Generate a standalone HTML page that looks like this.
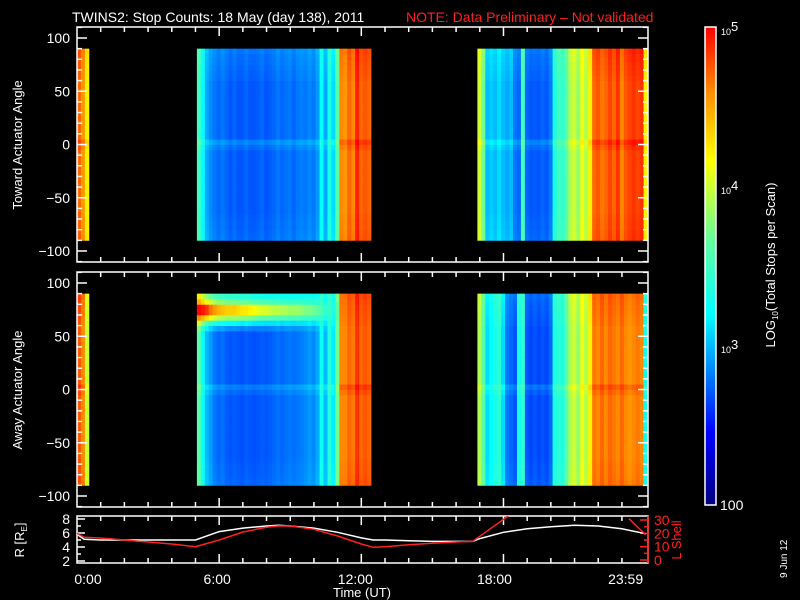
<!DOCTYPE html>
<html><head><meta charset="utf-8"><style>
html,body{margin:0;padding:0;background:#000;}
svg{display:block;font-family:"Liberation Sans",sans-serif;}
</style></head><body>
<svg id="chart" width="800" height="600" viewBox="0 0 800 600">
<rect x="0" y="0" width="800" height="600" fill="#000"/>
<defs>
<linearGradient id="cbg" x1="0" y1="1" x2="0" y2="0">
<stop offset="0" stop-color="#000080"/><stop offset="0.15" stop-color="#0000ff"/><stop offset="0.4" stop-color="#00ffff"/><stop offset="0.55" stop-color="#60ffa0"/><stop offset="0.72" stop-color="#ffff00"/><stop offset="0.86" stop-color="#ff9000"/><stop offset="1" stop-color="#ff0000"/>
</linearGradient>
<clipPath id="lineclip"><rect x="77" y="516" width="571" height="47"/></clipPath>
</defs>
<text x="72" y="22" font-size="14" fill="#fff">TWINS2: Stop Counts: 18 May (day 138), 2011</text>
<text x="406" y="22" font-size="14" fill="#ff2020">NOTE: Data Preliminary – Not validated</text>
<g id="spec"></g>
<g id="axes"></g>
<g id="lines" clip-path="url(#lineclip)"></g>
<rect x="705" y="27" width="11" height="478" fill="url(#cbg)" stroke="#fff" stroke-width="1.5"/>
<text transform="translate(775,265) rotate(-90)" text-anchor="middle" font-size="13" fill="#fff">LOG<tspan font-size="8" dy="3">10</tspan><tspan dy="-3">(Total Stops per Scan)</tspan></text>
<text transform="translate(22,145) rotate(-90)" text-anchor="middle" font-size="13" fill="#fff">Toward Actuator Angle</text>
<text transform="translate(22,390) rotate(-90)" text-anchor="middle" font-size="13" fill="#fff">Away Actuator Angle</text>
<text transform="translate(24,540) rotate(-90)" text-anchor="middle" font-size="13" fill="#fff">R [R<tspan font-size="8" dy="3">E</tspan><tspan dy="-3">]</tspan></text>
<text transform="translate(681,540) rotate(-90)" text-anchor="middle" font-size="13" fill="#ff2020">L Shell</text>
<text x="362" y="597" text-anchor="middle" font-size="13" fill="#fff">Time (UT)</text>
<text transform="translate(787,578) rotate(-90)" text-anchor="start" font-size="10" fill="#fff">9 Jun 12</text>
</svg>
<script>
// ---- data ----
const segStartHours = [0.0, 5.06, 16.9];
const colHours = 0.167;
const topSeg1 = [4.7,4.55,4.2];
const botSeg1 = [4.75,4.6,4.0];
const topSeg2 = [3.5,3.2,2.95,2.85,2.8,2.75,2.8,2.75,2.7,2.75,2.7,2.7,2.75,2.7,2.7,2.72,2.75,2.7,2.72,2.75,2.8,2.75,2.78,2.8,2.75,2.8,2.82,2.8,2.85,2.8,2.9,3.2,2.95,3.3,3.1,3.6,4.6,4.55,4.7,4.6,4.9,4.7,4.75,4.7];
const botSeg2 = [3.6,3.25,3.0,2.9,2.8,2.75,2.78,2.72,2.7,2.72,2.7,2.68,2.72,2.7,2.68,2.7,2.72,2.7,2.72,2.75,2.78,2.75,2.78,2.8,2.78,2.8,2.82,2.85,2.9,2.85,2.95,3.25,3.0,3.35,3.15,3.7,4.6,4.6,4.7,4.65,4.85,4.7,4.75,4.7];
const bandBot2 = [4.95,4.9,4.8,4.6,4.5,4.4,4.35,4.3,4.3,4.3,4.25,4.2,4.2,4.15,4.1,4.05,4.0,4.0,3.95,3.9,3.9,3.85,3.85,3.8,3.8,3.8,3.75,3.7,3.7,3.65,3.6,3.5,3.4,3.4,3.3,3.6,0,0,0,0,0,0,0,0];
const topSeg3 = [4.0,3.7,3.0,3.05,3.0,3.1,3.0,2.95,3.0,2.8,2.75,3.5,2.75,2.7,2.72,2.7,2.75,2.7,2.8,3.3,3.5,3.4,3.6,3.9,4.0,3.8,4.1,3.9,4.2,4.7,4.75,4.65,4.7,4.8,4.7,4.85,4.6,4.75,4.8,4.85,4.8,4.85,4.2];
const botSeg3 = [3.9,3.6,3.1,3.2,3.3,3.4,3.1,2.8,2.75,2.7,3.3,3.4,2.7,2.65,2.7,2.65,2.7,2.65,2.75,3.3,3.4,3.3,3.6,3.9,4.0,3.8,4.1,3.9,4.2,4.65,4.6,4.7,4.6,4.7,4.65,4.6,4.7,4.6,4.55,4.6,4.65,4.6,3.3];
const angleEdges = [-90,-85,-80,-75,-70,-65,-60,-55,-50,-45,-40,-35,-30,-25,-20,-15,-10,-5,0,5,10,15,20,25,30,35,40,45,50,55,60,65,70,75,80,85,90];
const angleMod = [0.04,0.03,0.02,0.02,0.01,0,0,0,0,0,0,0,0,0,0,0,0,0.05,0.12,0,0,0,0,0,0,0,0,0,0,0,0.02,0.03,0.04,0.05,0.06,0.08];
const bandWeight = [0,0,0,0,0,0,0,0,0,0,0,0,0,0,0,0,0,0,0,0,0,0,0,0,0,0,0,0,0,0.1,0.3,0.7,1,1,0.6,0.4];
const rHours = [0,0.3,1,2,3,4,5,6,7,8,8.5,9,10,11,12,12.5,13,14,15,16,16.7,17,18,19,20,21,22,23,24];
const rValues = [5.8,5.1,5.0,5.0,5.0,5.0,5.0,6.2,6.7,7.0,7.1,7.0,6.7,6.1,5.3,5.0,5.0,4.9,4.8,4.8,4.8,5.2,6.1,6.6,6.9,7.1,7.0,6.6,5.9];
const lHours = [0,0.3,1,2,3,4,5,6,7,8,8.5,9,10,11,12,12.5,13,14,15,16,16.7,18.2];
const lValues = [20,17,16.5,15,13.5,12,10,15,21,24.5,25.5,25.5,23,18,12,9.5,10,11.5,12.5,13.5,14,33];
const lHours2 = [23.3,24];
const lValues2 = [31,19];
const angleTicks = [-100,-50,0,50,100];
const timeTickLabels = ["0:00","6:00","12:00","18:00","23:59"];
const timeTickHours = [0,6,12,18,24];
const rTicks = [2,4,6,8];
const lTicks = [0,10,20,30];

// ---- scales ----
const X0=77, X1=648;
const xS = h => X0 + h*(X1-X0)/24.1;
const yTop = a => 144.5 - a*1.065;
const yBot = a => 389.5 - a*1.065;
const yR = r => 519 + (8-r)*7;
const yL = l => 560 - l*1.333;
const labelShift = [11,-2,-6,-9,-20];
const stops=[[0,[0,0,128]],[0.15,[0,0,255]],[0.4,[0,255,255]],[0.55,[96,255,160]],[0.72,[255,255,0]],[0.86,[255,144,0]],[1,[255,0,0]]];
function cmap(v){let t=Math.max(0,Math.min(1,(v-2)/3));for(let i=1;i<stops.length;i++){if(t<=stops[i][0]){const a=stops[i-1],b=stops[i],f=(t-a[0])/(b[0]-a[0]);return 'rgb('+a[1].map((c,k)=>Math.round(c+(b[1][k]-c)*f)).join(',')+')';}}return 'rgb(255,0,0)';}
const NS='http://www.w3.org/2000/svg';
function el(t,at,parent){const e=document.createElementNS(NS,t);for(const k in at)e.setAttribute(k,at[k]);parent.appendChild(e);return e;}

const spec=document.getElementById('spec');
function drawSeg(vals, startH, yF, band, name){
  for(let i=0;i<vals.length;i++){
    const xa=xS(startH+i*colHours), xb=xS(startH+(i+1)*colHours);
    for(let j=0;j<angleEdges.length-1;j++){
      let v=vals[i]+angleMod[j];
      if(band&&band[i]>0&&bandWeight[j]>0){v=v+bandWeight[j]*(band[i]-vals[i]);}
      const ya=yF(angleEdges[j+1]), yb=yF(angleEdges[j]);
      const r=el('rect',{x:xa.toFixed(2),y:ya.toFixed(2),width:(xb-xa+0.4).toFixed(2),height:(yb-ya+0.4).toFixed(2),fill:cmap(v)},spec);
      
      
    }
  }
}
drawSeg(topSeg1,segStartHours[0],yTop,null,'top-spectrogram-cell');
drawSeg(topSeg2,segStartHours[1],yTop,null,'top-spectrogram-cell');
drawSeg(topSeg3,segStartHours[2],yTop,null,'top-spectrogram-cell');
drawSeg(botSeg1,segStartHours[0],yBot,null,'bottom-spectrogram-cell');
drawSeg(botSeg2,segStartHours[1],yBot,bandBot2,'bottom-spectrogram-cell');
drawSeg(botSeg3,segStartHours[2],yBot,null,'bottom-spectrogram-cell');

// ---- axes ----
const ax=document.getElementById('axes');
function line(x1,y1,x2,y2,c,name){const l=el('line',{x1,y1,x2,y2,stroke:c,'stroke-width':1.5},ax);return l;}
function txt(x,y,s,anchor,c,name,fs){const t=el('text',{x,y,'text-anchor':anchor,fill:c,'font-size':fs||14},ax);t.textContent=s;return t;}
function frame(y0,y1,name){const r=el('rect',{x:X0,y:y0,width:X1-X0,height:y1-y0,fill:'none',stroke:'#fff','stroke-width':1.5},ax);}
function timeTicks(y0,y1){
  for(let h=1;h<24;h++){const x=xS(h);const L=(h%6===0)?9:5;line(x,y0,x,y0+L,'#fff','x-tick');line(x,y1,x,y1-L,'#fff','x-tick');}
}
[[27,262,yTop,'top'],[272,507,yBot,'bottom']].forEach(([y0,y1,yF,n])=>{
  frame(y0,y1,n+'-panel-frame');
  timeTicks(y0,y1);
  for(let a=-110;a<=110;a+=10){const y=yF(a);const major=angleTicks.includes(a);const L=major?10:5;line(X0,y,X0+L,y,'#fff','y-tick');line(X1,y,X1-L,y,'#fff','y-tick');}
  angleTicks.forEach(a=>txt(70,yF(a)+5,a<0?'\u2212'+(-a):String(a),'end','#fff',n+'-y-tick-label'));
});
frame(516,563,'orbit-panel-frame');
timeTicks(516,563);
for(let r=2;r<=8;r++){const y=yR(r);const L=r%2===0?8:4;line(X0,y,X0+L,y,'#fff','r-tick');}
rTicks.forEach(r=>txt(70,yR(r)+5,String(r),'end','#fff','r-tick-label'));
line(X1,516,X1,563,'#ff2020','l-axis-line');
for(let l=0;l<=30;l+=5){const y=yL(l);const L=l%10===0?8:4;line(X1,y,X1-L,y,'#ff2020','l-tick');}
lTicks.forEach(l=>txt(654,yL(l)+5,String(l),'start','#ff2020','l-tick-label'));
timeTickHours.forEach((h,i)=>txt(xS(h)+labelShift[i],584,timeTickLabels[i],'middle','#fff','x-tick-label'));
// colorbar labels
[[5,27],[4,186],[3,345]].forEach(([p,y])=>{
  if(p!==5){line(705,y,709,y,'#fff','colorbar-tick');line(712,y,716,y,'#fff','colorbar-tick');}
  const t=el('text',{x:721,y:y+8,fill:'#fff','font-size':9},ax);t.textContent='10';
  
  
  const s=el('tspan',{'font-size':13,dy:-4},t);s.textContent=String(p);
});
txt(720,510,'100','start','#fff','colorbar-min-label',14);

// ---- orbit lines ----
const lg=document.getElementById('lines');
function path(hs,vs,yF,c,name){const d=hs.map((h,i)=>(i?'L':'M')+xS(h).toFixed(1)+','+yF(vs[i]).toFixed(1)).join('');const p=el('path',{d,fill:'none',stroke:c,'stroke-width':1.5},lg);}
path(rHours,rValues,yR,'#fff','r-distance-line');
path(lHours,lValues,yL,'#ff2020','l-shell-line');
path(lHours2,lValues2,yL,'#ff2020','l-shell-line-end');
</script>
</body></html>
